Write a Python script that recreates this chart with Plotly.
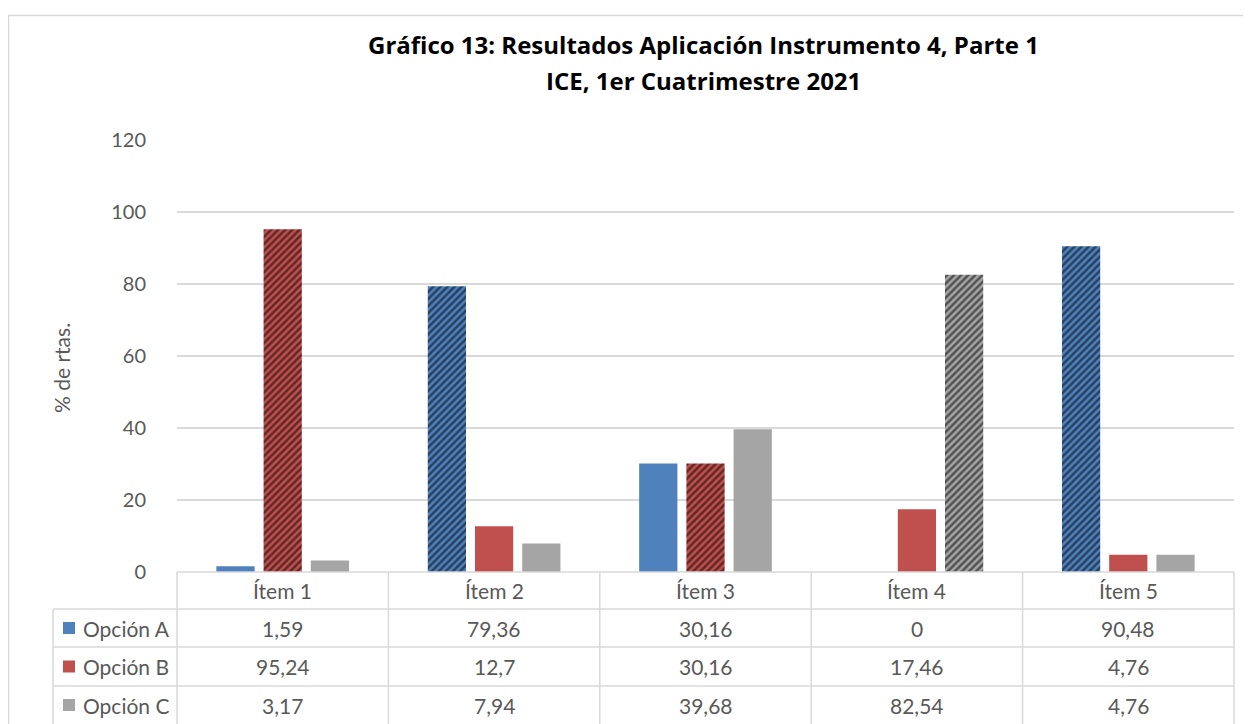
import plotly.graph_objects as go

categories = ["Ítem 1", "Ítem 2", "Ítem 3", "Ítem 4", "Ítem 5"]
series_names = ["Opción A", "Opción B", "Opción C"]
opcion_a = [1.59, 79.36, 30.16, 0, 90.48]
opcion_b = [95.24, 12.7, 30.16, 17.46, 4.76]
opcion_c = [3.17, 7.94, 39.68, 82.54, 4.76]
series_values = [opcion_a, opcion_b, opcion_c]
# correct answers are hatched
hatched = [
    [False, True, False, False, True],
    [True, False, True, False, False],
    [False, False, False, True, False],
]
colors = ["#4F81BD", "#C0504D", "#A5A5A5"]
y_ticks = [0, 20, 40, 60, 80, 100, 120]

OFF = 8  # page body margin
W, H = 1251, 724
L, R, T, B = 177 - OFF, 1251 - (1234 - OFF), 140 - OFF, 724 - (572 - OFF)
pw, ph = W - L - R, H - T - B
FONT = "Lato"
GRID = "#d9d9d9"
TXT = "#595959"


def px_x(p):
    return (p - OFF - L) / pw


def px_y(p):
    return (H - B - (p - OFF)) / ph


def fmt(v):
    s = ("%.2f" % v).rstrip("0").rstrip(".")
    return s.replace(".", ",")


fig = go.Figure()
for name, vals, hat, col in zip(series_names, series_values, hatched, colors):
    fig.add_trace(go.Bar(
        x=categories, y=vals, name=name,
        marker=dict(
            color=col, line=dict(width=0),
            pattern=dict(shape=["/" if h else "" for h in hat],
                         fgcolor="black", bgcolor=col, size=5, solidity=0.5,
                         fillmode="overlay"),
        ),
        showlegend=False,
    ))

shapes = []
annotations = []
# outer chart border
shapes.append(dict(type="rect", xref="paper", yref="paper",
                   x0=px_x(8.5), x1=px_x(1249), y0=px_y(760), y1=px_y(15.5),
                   line=dict(color=GRID, width=1.5), fillcolor="rgba(0,0,0,0)", layer="below"))

# table geometry (page pixels)
row_tops = [572, 609, 647, 686, 724]
col_edges = [177 + i * (1234 - 177) / 5 for i in range(6)]
shapes.append(dict(type="line", xref="paper", yref="paper", x0=px_x(177), x1=px_x(1234),
                   y0=px_y(572), y1=px_y(572), line=dict(color=GRID, width=1.5)))
for yy in row_tops[1:4]:
    shapes.append(dict(type="line", xref="paper", yref="paper", x0=px_x(53), x1=px_x(1234),
                       y0=px_y(yy), y1=px_y(yy), line=dict(color=GRID, width=1.5)))
for xx in col_edges:
    shapes.append(dict(type="line", xref="paper", yref="paper", x0=px_x(xx), x1=px_x(xx),
                       y0=px_y(572), y1=px_y(740), line=dict(color=GRID, width=1.5)))
shapes.append(dict(type="line", xref="paper", yref="paper", x0=px_x(53), x1=px_x(53),
                   y0=px_y(609), y1=px_y(740), line=dict(color=GRID, width=1.5)))

TFONT = dict(family=FONT, size=21, color=TXT)
for c in categories:
    annotations.append(dict(x=c, xref="x", y=px_y(590.5), yref="paper", text=c,
                            xanchor="center", yanchor="middle", showarrow=False, font=TFONT))
for r, (name, vals, col) in enumerate(zip(series_names, series_values, colors)):
    yc = (row_tops[r + 1] + row_tops[r + 2]) / 2
    shapes.append(dict(type="rect", xref="paper", yref="paper",
                       x0=px_x(63), x1=px_x(75), y0=px_y(yc + 6), y1=px_y(yc - 6),
                       fillcolor=col, line=dict(width=0)))
    annotations.append(dict(x=px_x(81), xref="paper", y=px_y(yc), yref="paper", text=name,
                            xanchor="left", yanchor="middle", showarrow=False, font=TFONT))
    for c, v in zip(categories, vals):
        annotations.append(dict(x=c, xref="x", y=px_y(yc), yref="paper", text=fmt(v),
                                xanchor="center", yanchor="middle", showarrow=False, font=TFONT))

# y-axis title
annotations.append(dict(x=px_x(61), xref="paper", y=px_y(368), yref="paper", text="% de rtas.",
                        textangle=-90, xanchor="center", yanchor="middle", showarrow=False,
                        font=dict(family=FONT, size=21, color=TXT)))

# title lines
for txt, yy in [("Gráfico 13: Resultados Aplicación Instrumento 4, Parte 1", 45),
                ("ICE, 1er Cuatrimestre 2021", 80)]:
    annotations.append(dict(x=px_x(703), xref="paper", y=px_y(yy), yref="paper",
                            text="<b>%s</b>" % txt, xanchor="center", yanchor="middle",
                            showarrow=False,
                            font=dict(family="Open Sans", size=24, color="black")))

fig.update_layout(
    width=W, height=H,
    margin=dict(l=L, r=R, t=T, b=B, autoexpand=False),
    paper_bgcolor="white", plot_bgcolor="white",
    barmode="group", bargap=0.33, bargroupgap=0.19,
    xaxis=dict(showticklabels=False, showgrid=False, zeroline=False, showline=False, ticks=""),
    yaxis=dict(range=[0, 120], tickvals=y_ticks, showgrid=True, gridcolor=GRID, gridwidth=1.5,
               zeroline=False, showline=False, ticks="outside", ticklen=26, tickcolor="white",
               tickfont=dict(family=FONT, size=20, color=TXT)),
    shapes=shapes, annotations=annotations,
)

fig.write_html("out.html")
